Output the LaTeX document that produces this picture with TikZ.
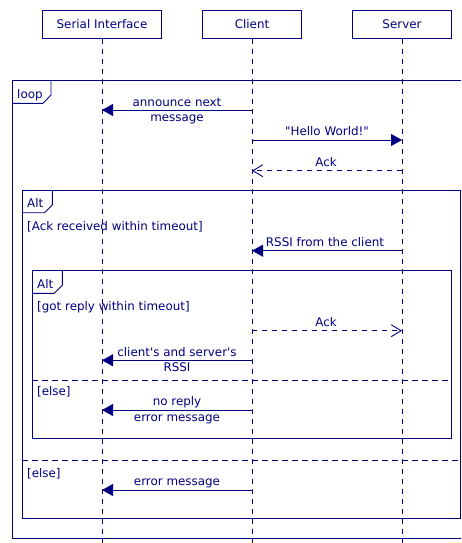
\documentclass[tikz,border=0pt]{standalone}
\usepackage{fontspec}
\setmainfont{DejaVu Sans}[Ligatures=TeXOff]
\usetikzlibrary{arrows.meta}
\definecolor{navy}{RGB}{0,0,128}
\begin{document}
\begin{tikzpicture}[x=1pt,y=-1pt,
  every node/.style={text=navy, font=\fontsize{11.9}{15.5}\selectfont},
  actor/.style={draw=navy, line width=0.8pt, minimum height=28.5pt, inner sep=0pt},
  lifeline/.style={draw=navy, line width=0.9pt, dash pattern=on 5pt off 5pt},
  frame/.style={draw=navy, line width=0.9pt},
  divider/.style={draw=navy, line width=0.9pt, dash pattern=on 6pt off 4pt},
  sync/.style={draw=navy, line width=0.9pt, -{Triangle[length=11pt,width=12pt]}},
  reply/.style={draw=navy, line width=0.9pt, dash pattern=on 5pt off 5pt, -{Straight Barb[length=10pt,width=12pt]}},
  msglbl/.style={anchor=base, align=center, inner sep=0pt},
  guard/.style={anchor=base west, inner sep=0pt},
]
\useasboundingbox (0,0) rectangle (461,543);
\clip (0,0) rectangle (461,543);

% participants
\node[actor, minimum width=119pt] (si) at (102,24.5) {Serial Interface};
\node[actor, minimum width=99pt] (cl) at (252,24.5) {Client};
\node[actor, minimum width=99pt] (sv) at (402,24.5) {Server};

\coordinate (siB) at (102,543);
\coordinate (clB) at (252,543);
\coordinate (svB) at (402,543);
\draw[lifeline] (si.south) -- (siB);
\draw[lifeline] (cl.south) -- (clB);
\draw[lifeline] (sv.south) -- (svB);

% loop frame
\draw[frame] (12,80) rectangle (475,538.7);
\draw[frame] (12,103.3) -- (43,103.3) -- (51,95) -- (51,80);
\node[guard] (loopL) at (17,98.3) {loop};

% outer alt frame
\draw[frame] (22,190.3) rectangle (460,518.7);
\draw[frame] (22,212.7) -- (44.5,212.7) -- (52.3,205) -- (52.3,190.3);
\node[guard] (altA) at (27,207.5) {Alt};
\node[guard] (altAg) at (27,230.5) {[Ack received within timeout]};
\draw[divider] (22,460.7) -- (460,460.7);
\node[guard] (altAe) at (27,477) {[else]};

% inner alt frame
\draw[frame] (32.3,270) rectangle (451,438.3);
\draw[frame] (32.3,293.3) -- (54.3,293.3) -- (62.3,285.3) -- (62.3,270);
\node[guard] (altB) at (37,288.3) {Alt};
\node[guard] (altBg) at (37,310.5) {[got reply within timeout]};
\draw[divider] (32.3,380.7) -- (451,380.7);
\node[guard] (altBe) at (37,395.5) {[else]};

% message end points
\coordinate (m1a) at (252,110);   \coordinate (m1b) at (102,110);
\coordinate (m2a) at (252,140);   \coordinate (m2b) at (402,140);
\coordinate (m3a) at (402,170.7); \coordinate (m3b) at (252,170.7);
\coordinate (m4a) at (402,250.7); \coordinate (m4b) at (252,250.7);
\coordinate (m5a) at (252,330.7); \coordinate (m5b) at (402,330.7);
\coordinate (m6a) at (252,360.3); \coordinate (m6b) at (102,360.3);
\coordinate (m7a) at (252,410);   \coordinate (m7b) at (102,410);
\coordinate (m8a) at (252,490);   \coordinate (m8b) at (102,490);

\draw[sync] (m1a) -- (m1b);
\node[msglbl] (l1) at (177,121.5) {announce next\\message};
\draw[sync] (m2a) -- (m2b);
\node[msglbl] (l2) at (327,135.5) {"Hello World!"};
\draw[reply] (m3a) -- (m3b);
\node[msglbl] (l3) at (326,166.2) {Ack};
\draw[sync] (m4a) -- (m4b);
\node[msglbl] (l4) at (325,246.2) {RSSI from the client};
\draw[reply] (m5a) -- (m5b);
\node[msglbl] (l5) at (326,326.2) {Ack};
\draw[sync] (m6a) -- (m6b);
\node[msglbl] (l6) at (177,371.5) {client's and server's\\RSSI};
\draw[sync] (m7a) -- (m7b);
\node[msglbl] (l7) at (177,421) {no reply\\error message};
\draw[sync] (m8a) -- (m8b);
\node[msglbl] (l8) at (177,485.5) {error message};
\end{tikzpicture}
\end{document}
